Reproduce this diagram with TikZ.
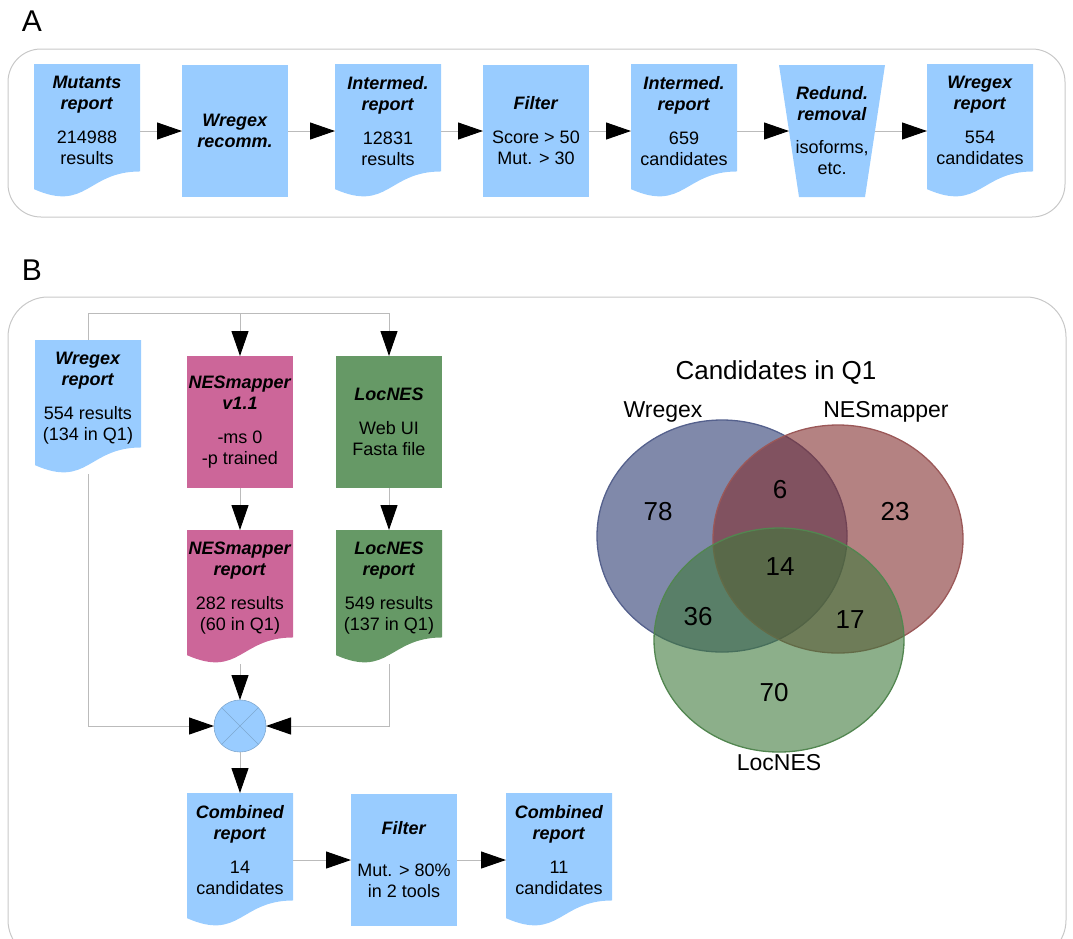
\documentclass[tikz,border=0pt]{standalone}
\usepackage{fontspec}
\setmainfont{Liberation Sans}
\usetikzlibrary{arrows.meta, calc}
\definecolor{fBlue}{HTML}{99CCFF}
\definecolor{fPink}{HTML}{CC6699}
\definecolor{fGreen}{HTML}{669966}
\definecolor{fLine}{HTML}{BBBBBB}
\definecolor{fFrame}{HTML}{C8C8C8}
\definecolor{fRing}{HTML}{7FA8D0}
\definecolor{vBlue}{HTML}{2B3A71}
\definecolor{vRed}{HTML}{822E2E}
\definecolor{vGreen}{HTML}{3F793C}
\newcommand{\bi}[1]{\textbf{\textit{#1}}}

\begin{document}
\begin{tikzpicture}[x=1pt, y=-1pt,
    every node/.style={font=\fontsize{18}{21}\selectfont, align=center, inner sep=0pt, outer sep=0pt},
    proc/.style={fill=#1, minimum width=106pt, minimum height=132pt},
    doc/.style={minimum width=106pt, minimum height=134pt, path picture={
      \fill[#1] (path picture bounding box.north west) -- (path picture bounding box.north east)
        -- ($(path picture bounding box.north east)!0.802!(path picture bounding box.south east)$)
        .. controls ($(path picture bounding box.north)!0.802!(path picture bounding box.south)$)
        and ($(path picture bounding box.north)!1.108!(path picture bounding box.south)$)
        .. ($(path picture bounding box.north west)!0.934!(path picture bounding box.south west)$) -- cycle;}},
    trap/.style={minimum width=106pt, minimum height=132pt, path picture={
      \fill[#1] (path picture bounding box.north west) -- (path picture bounding box.north east)
        -- ([xshift=-20pt]path picture bounding box.south east)
        -- ([xshift=20pt]path picture bounding box.south west) -- cycle;}},
    merge/.style={circle, minimum size=52pt, fill=fBlue, draw=fRing, line width=0.6pt, path picture={
      \draw[fRing, line width=0.6pt] (path picture bounding box.north west) -- (path picture bounding box.south east)
        (path picture bounding box.north east) -- (path picture bounding box.south west);}},
    flowline/.style={draw=fLine, line width=1pt},
    flowarrow/.style={flowline, -{Triangle[length=25pt, width=17pt, color=black]}},
    frame/.style={draw=fFrame, line width=1pt},
    venn/.style={line width=1.3pt, fill opacity=0.6}
  ]
  \useasboundingbox (0,0) rectangle (1073,938);
  \clip (0,0) rectangle (1073,938);

  \node[font=\fontsize{30}{34}\selectfont] (la) at (32,21) {A};
  \draw[frame, rounded corners=33pt] (8,49) rectangle (1065,217);

  \node[doc=fBlue] (mut) at (87,131) {\bi{Mutants}\\\bi{report}\\[13pt]214988\\results\\\mbox{}};
  \node[proc=fBlue] (rec) at (235,131) {\bi{Wregex}\\\bi{recomm.}};
  \node[doc=fBlue] (int1) at (388,131) {\bi{Intermed.}\\\bi{report}\\[13pt]12831\\results\\\mbox{}};
  \node[proc=fBlue] (fil) at (536,131) {\bi{Filter}\\[13pt]Score > 50\\Mut. > 30};
  \node[doc=fBlue] (int2) at (684,131) {\bi{Intermed.}\\\bi{report}\\[13pt]659\\candidates\\\mbox{}};
  \node[trap=fBlue] (red) at (832,131) {\bi{Redund.}\\\bi{removal}\\[12pt]isoforms,\\etc.};
  \node[doc=fBlue] (wre) at (980,131) {\bi{Wregex}\\\bi{report}\\[13pt]554\\candidates\\\mbox{}};

  \draw[flowarrow] (mut) -- (rec);
  \draw[flowarrow] (rec) -- (int1);
  \draw[flowarrow] (int1) -- (fil);
  \draw[flowarrow] (fil) -- (int2);
  \draw[flowarrow] (int2) -- ([xshift=10pt]red.west);
  \draw[flowarrow] ([xshift=-10pt]red.east) -- (wre);

  \node[font=\fontsize{30}{34}\selectfont] (lb) at (32,270) {B};
  \draw[frame, rounded corners=40pt] (8,297) rectangle (1066,960);

  \node[doc=fBlue] (wrb) at (88,407) {\bi{Wregex}\\\bi{report}\\[13pt]554 results\\(134 in Q1)\\\mbox{}};
  \node[proc=fPink] (nm) at (240,422) {\bi{NESmapper}\\\bi{v1.1}\\[13pt]-ms 0\\-p trained};
  \node[proc=fGreen] (ln) at (389,422) {\bi{LocNES}\\[13pt]Web UI\\Fasta file};
  \node[doc=fPink] (nmr) at (240,597) {\bi{NESmapper}\\\bi{report}\\[13pt]282 results\\(60 in Q1)\\\mbox{}};
  \node[doc=fGreen] (lnr) at (389,597) {\bi{LocNES}\\\bi{report}\\[13pt]549 results\\(137 in Q1)\\\mbox{}};
  \node[merge] (mg) at (240,726) {};
  \node[doc=fBlue] (cb1) at (240,860) {\bi{Combined}\\\bi{report}\\[13pt]14\\candidates\\\mbox{}};
  \node[proc=fBlue] (fb) at (404,860) {\bi{Filter}\\[21pt]Mut. > 80\%\\in 2 tools};
  \node[doc=fBlue] (cb2) at (559,860) {\bi{Combined}\\\bi{report}\\[13pt]11\\candidates\\\mbox{}};

  \coordinate (bus) at (0,313);
  \draw[flowarrow] (wrb.north) |- (bus -| ln) -- (ln);
  \draw[flowarrow] (bus -| nm) -- (nm);
  \draw[flowarrow] (wrb.south) |- (mg);
  \draw[flowarrow] (nm) -- (nmr);
  \draw[flowarrow] (ln) -- (lnr);
  \draw[flowarrow] (nmr) -- (mg);
  \draw[flowarrow] (lnr) |- (mg);
  \draw[flowarrow] (mg) -- (cb1);
  \draw[flowarrow] (cb1) -- (fb);
  \draw[flowarrow] (fb) -- (cb2);

  \draw[venn, draw=vBlue!80, fill=vBlue] (722,536) ellipse [x radius=125, y radius=116];
  \draw[venn, draw=vRed!80, fill=vRed] (838,539) ellipse [x radius=125, y radius=114];
  \draw[venn, draw=vGreen!90, fill=vGreen] (779,640) ellipse [x radius=125, y radius=112];

  \node[font=\fontsize{26}{30}\selectfont] (vt) at (776,373) {Candidates in Q1};
  \node[font=\fontsize{23}{27}\selectfont] (vw) at (663,412) {Wregex};
  \node[font=\fontsize{23}{27}\selectfont] (vn) at (886,412) {NESmapper};
  \node[font=\fontsize{23}{27}\selectfont] (vl) at (779,763) {LocNES};
  \node[font=\fontsize{26}{30}\selectfont] (n78) at (658,512) {78};
  \node[font=\fontsize{26}{30}\selectfont] (n6) at (780,490) {6};
  \node[font=\fontsize{26}{30}\selectfont] (n23) at (895,512) {23};
  \node[font=\fontsize{26}{30}\selectfont] (n14) at (780,567) {14};
  \node[font=\fontsize{26}{30}\selectfont] (n36) at (698,617) {36};
  \node[font=\fontsize{26}{30}\selectfont] (n17) at (850,620) {17};
  \node[font=\fontsize{26}{30}\selectfont] (n70) at (774,693) {70};
\end{tikzpicture}
\end{document}
